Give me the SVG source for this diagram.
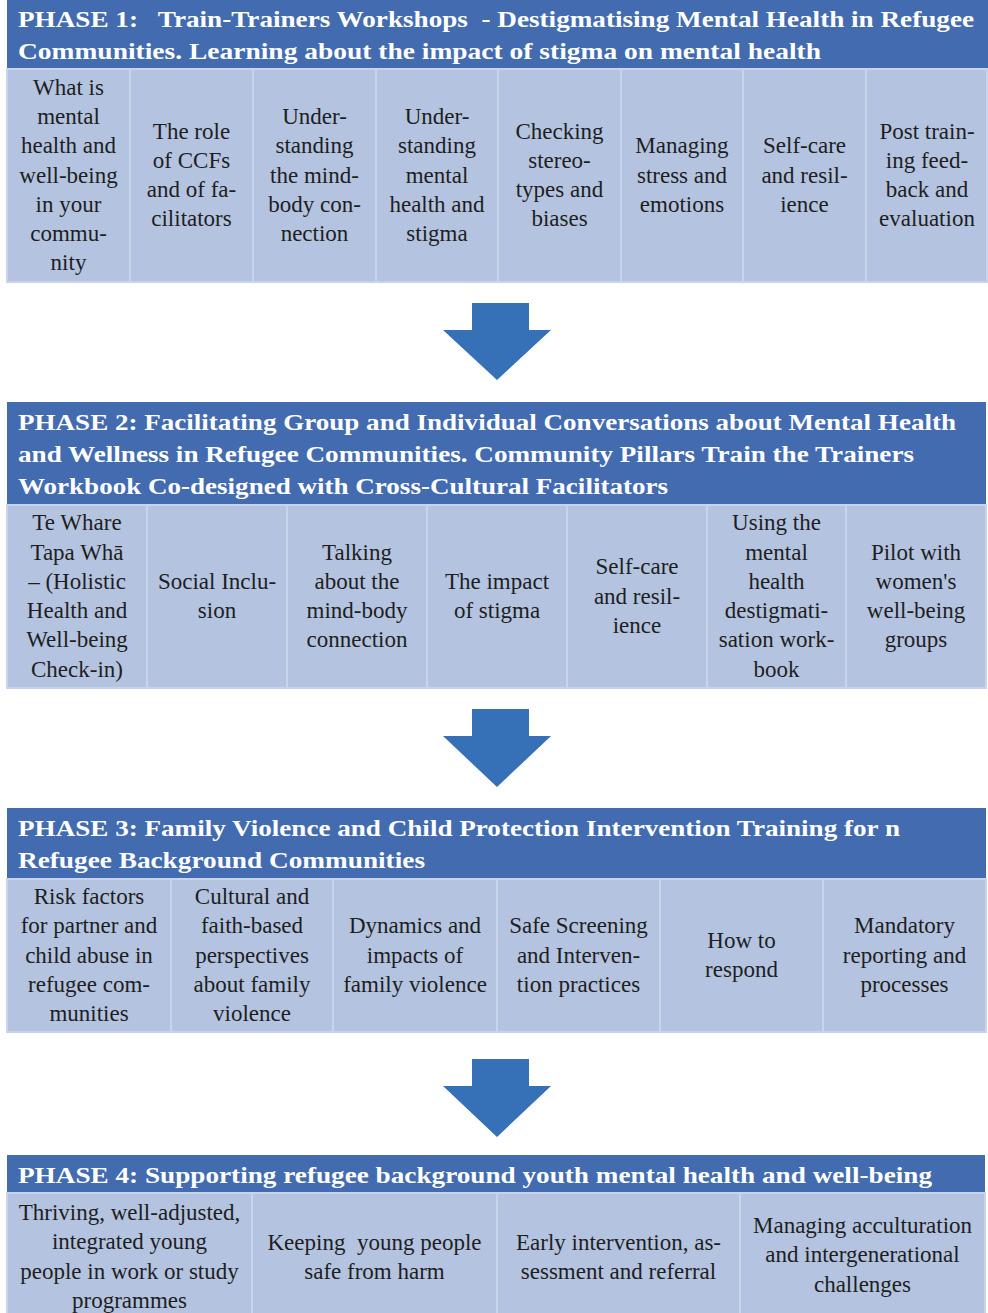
<svg xmlns="http://www.w3.org/2000/svg" width="988" height="1313" viewBox="0 0 988 1313">
<style>
.hdr{fill:#436bb0}
.cell{fill:#b4c4e0;stroke:#c9d4ea;stroke-width:2}
.ht{font-family:"Liberation Serif",serif;font-weight:bold;font-size:23px;fill:#ffffff}
.ct{font-family:"Liberation Serif",serif;font-size:23px;fill:#1e1e1e;text-anchor:middle}
.arrow{fill:#3670b6}
</style>
<rect width="988" height="1313" fill="#ffffff"/>

<g id="phase1">
<rect class="hdr" x="7" y="0" width="981" height="69"/>
<text class="ht" x="18" y="27" textLength="956" lengthAdjust="spacingAndGlyphs" xml:space="preserve">PHASE 1:   Train-Trainers Workshops  - Destigmatising Mental Health in Refugee</text>
<text class="ht" x="18" y="59" textLength="803" lengthAdjust="spacingAndGlyphs">Communities. Learning about the impact of stigma on mental health</text>
</g>
<g id="p1c1"><rect class="cell" x="7" y="69" width="123" height="213"/><text class="ct" y="94.6"><tspan x="68.5">What is</tspan><tspan x="68.5" dy="29.3">mental</tspan><tspan x="68.5" dy="29.3">health and</tspan><tspan x="68.5" dy="29.3">well-being</tspan><tspan x="68.5" dy="29.3">in your</tspan><tspan x="68.5" dy="29.3">commu-</tspan><tspan x="68.5" dy="29.3">nity</tspan></text></g>
<g id="p1c2"><rect class="cell" x="130" y="69" width="123" height="213"/><text class="ct" y="138.5"><tspan x="191.5">The role</tspan><tspan x="191.5" dy="29.3">of CCFs</tspan><tspan x="191.5" dy="29.3">and of fa-</tspan><tspan x="191.5" dy="29.3">cilitators</tspan></text></g>
<g id="p1c3"><rect class="cell" x="253" y="69" width="123" height="213"/><text class="ct" y="123.9"><tspan x="314.5">Under-</tspan><tspan x="314.5" dy="29.3">standing</tspan><tspan x="314.5" dy="29.3">the mind-</tspan><tspan x="314.5" dy="29.3">body con-</tspan><tspan x="314.5" dy="29.3">nection</tspan></text></g>
<g id="p1c4"><rect class="cell" x="376" y="69" width="122" height="213"/><text class="ct" y="123.9"><tspan x="437">Under-</tspan><tspan x="437" dy="29.3">standing</tspan><tspan x="437" dy="29.3">mental</tspan><tspan x="437" dy="29.3">health and</tspan><tspan x="437" dy="29.3">stigma</tspan></text></g>
<g id="p1c5"><rect class="cell" x="498" y="69" width="123" height="213"/><text class="ct" y="138.5"><tspan x="559.5">Checking</tspan><tspan x="559.5" dy="29.3">stereo-</tspan><tspan x="559.5" dy="29.3">types and</tspan><tspan x="559.5" dy="29.3">biases</tspan></text></g>
<g id="p1c6"><rect class="cell" x="621" y="69" width="122" height="213"/><text class="ct" y="153.2"><tspan x="682">Managing</tspan><tspan x="682" dy="29.3">stress and</tspan><tspan x="682" dy="29.3">emotions</tspan></text></g>
<g id="p1c7"><rect class="cell" x="743" y="69" width="123" height="213"/><text class="ct" y="153.2"><tspan x="804.5">Self-care</tspan><tspan x="804.5" dy="29.3">and resil-</tspan><tspan x="804.5" dy="29.3">ience</tspan></text></g>
<g id="p1c8"><rect class="cell" x="866" y="69" width="121" height="213"/><text class="ct" y="138.5"><tspan x="927">Post train-</tspan><tspan x="927" dy="29.3">ing feed-</tspan><tspan x="927" dy="29.3">back and</tspan><tspan x="927" dy="29.3">evaluation</tspan></text></g>

<g id="phase2">
<rect class="hdr" x="7" y="402" width="979" height="103"/>
<text class="ht" x="18" y="430" textLength="938" lengthAdjust="spacingAndGlyphs">PHASE 2: Facilitating Group and Individual Conversations about Mental Health</text>
<text class="ht" x="18" y="462" textLength="896" lengthAdjust="spacingAndGlyphs">and Wellness in Refugee Communities. Community Pillars Train the Trainers</text>
<text class="ht" x="18" y="494" textLength="650" lengthAdjust="spacingAndGlyphs">Workbook Co-designed with Cross-Cultural Facilitators</text>
</g>
<g id="p2c1"><rect class="cell" x="7" y="505" width="140" height="183"/><text class="ct" y="530.2"><tspan x="77">Te Whare</tspan><tspan x="77" dy="29.3">Tapa Whā</tspan><tspan x="77" dy="29.3">– (Holistic</tspan><tspan x="77" dy="29.3">Health and</tspan><tspan x="77" dy="29.3">Well-being</tspan><tspan x="77" dy="29.3">Check-in)</tspan></text></g>
<g id="p2c2"><rect class="cell" x="147" y="505" width="140" height="183"/><text class="ct" y="588.9"><tspan x="217">Social Inclu-</tspan><tspan x="217" dy="29.3">sion</tspan></text></g>
<g id="p2c3"><rect class="cell" x="287" y="505" width="140" height="183"/><text class="ct" y="559.5"><tspan x="357">Talking</tspan><tspan x="357" dy="29.3">about the</tspan><tspan x="357" dy="29.3">mind-body</tspan><tspan x="357" dy="29.3">connection</tspan></text></g>
<g id="p2c4"><rect class="cell" x="427" y="505" width="140" height="183"/><text class="ct" y="588.9"><tspan x="497">The impact</tspan><tspan x="497" dy="29.3">of stigma</tspan></text></g>
<g id="p2c5"><rect class="cell" x="567" y="505" width="140" height="183"/><text class="ct" y="574.2"><tspan x="637">Self-care</tspan><tspan x="637" dy="29.3">and resil-</tspan><tspan x="637" dy="29.3">ience</tspan></text></g>
<g id="p2c6"><rect class="cell" x="707" y="505" width="139" height="183"/><text class="ct" y="530.2"><tspan x="776.5">Using the</tspan><tspan x="776.5" dy="29.3">mental</tspan><tspan x="776.5" dy="29.3">health</tspan><tspan x="776.5" dy="29.3">destigmati-</tspan><tspan x="776.5" dy="29.3">sation work-</tspan><tspan x="776.5" dy="29.3">book</tspan></text></g>
<g id="p2c7"><rect class="cell" x="846" y="505" width="140" height="183"/><text class="ct" y="559.5"><tspan x="916">Pilot with</tspan><tspan x="916" dy="29.3">women's</tspan><tspan x="916" dy="29.3">well-being</tspan><tspan x="916" dy="29.3">groups</tspan></text></g>

<g id="phase3">
<rect class="hdr" x="7" y="808" width="979" height="71"/>
<text class="ht" x="18" y="836" textLength="882" lengthAdjust="spacingAndGlyphs">PHASE 3: Family Violence and Child Protection Intervention Training for n</text>
<text class="ht" x="18" y="868" textLength="407" lengthAdjust="spacingAndGlyphs">Refugee Background Communities</text>
</g>
<g id="p3c1"><rect class="cell" x="7" y="879" width="164" height="153"/><text class="ct" y="903.9"><tspan x="89">Risk factors</tspan><tspan x="89" dy="29.3">for partner and</tspan><tspan x="89" dy="29.3">child abuse in</tspan><tspan x="89" dy="29.3">refugee com-</tspan><tspan x="89" dy="29.3">munities</tspan></text></g>
<g id="p3c2"><rect class="cell" x="171" y="879" width="162" height="153"/><text class="ct" y="903.9"><tspan x="252">Cultural and</tspan><tspan x="252" dy="29.3">faith-based</tspan><tspan x="252" dy="29.3">perspectives</tspan><tspan x="252" dy="29.3">about family</tspan><tspan x="252" dy="29.3">violence</tspan></text></g>
<g id="p3c3"><rect class="cell" x="333" y="879" width="164" height="153"/><text class="ct" y="933.2"><tspan x="415">Dynamics and</tspan><tspan x="415" dy="29.3">impacts of</tspan><tspan x="415" dy="29.3">family violence</tspan></text></g>
<g id="p3c4"><rect class="cell" x="497" y="879" width="163" height="153"/><text class="ct" y="933.2"><tspan x="578.5">Safe Screening</tspan><tspan x="578.5" dy="29.3">and Interven-</tspan><tspan x="578.5" dy="29.3">tion practices</tspan></text></g>
<g id="p3c5"><rect class="cell" x="660" y="879" width="163" height="153"/><text class="ct" y="947.9"><tspan x="741.5">How to</tspan><tspan x="741.5" dy="29.3">respond</tspan></text></g>
<g id="p3c6"><rect class="cell" x="823" y="879" width="163" height="153"/><text class="ct" y="933.2"><tspan x="904.5">Mandatory</tspan><tspan x="904.5" dy="29.3">reporting and</tspan><tspan x="904.5" dy="29.3">processes</tspan></text></g>

<g id="phase4">
<rect class="hdr" x="7" y="1155" width="978" height="38"/>
<text class="ht" x="18" y="1183" textLength="914" lengthAdjust="spacingAndGlyphs">PHASE 4: Supporting refugee background youth mental health and well-being</text>
</g>
<g id="p4c1"><rect class="cell" x="7" y="1193" width="245" height="130"/><text class="ct" y="1220"><tspan x="129.5">Thriving, well-adjusted,</tspan><tspan x="129.5" dy="29.3">integrated young</tspan><tspan x="129.5" dy="29.3">people in work or study</tspan><tspan x="129.5" dy="29.3">programmes</tspan></text></g>
<g id="p4c2"><rect class="cell" x="252" y="1193" width="245" height="130"/><text class="ct" y="1250" xml:space="preserve"><tspan x="374.5">Keeping  young people</tspan><tspan x="374.5" dy="29.3">safe from harm</tspan></text></g>
<g id="p4c3"><rect class="cell" x="497" y="1193" width="243" height="130"/><text class="ct" y="1250"><tspan x="618.5">Early intervention, as-</tspan><tspan x="618.5" dy="29.3">sessment and referral</tspan></text></g>
<g id="p4c4"><rect class="cell" x="740" y="1193" width="245" height="130"/><text class="ct" y="1233"><tspan x="862.5">Managing acculturation</tspan><tspan x="862.5" dy="29.3">and intergenerational</tspan><tspan x="862.5" dy="29.3">challenges</tspan></text></g>

<g id="connectors">
<path class="arrow" d="M472,303 H529 V330 H551 L497,380 L443,330 H472 Z"/>
<path class="arrow" d="M472,709 H529 V736 H551 L497,787 L443,736 H472 Z"/>
<path class="arrow" d="M472,1059 H529 V1086 H551 L497,1137 L443,1086 H472 Z"/>
</g>
</svg>
